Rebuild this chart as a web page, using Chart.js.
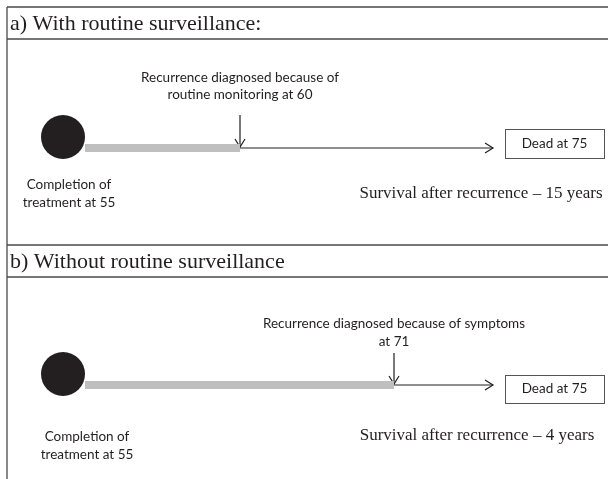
<!DOCTYPE html>
<html><head><meta charset="utf-8">
<script src="https://cdn.jsdelivr.net/npm/chart.js@4.4.1/dist/chart.umd.min.js"></script>
<style>html,body{margin:0;padding:0;background:#fff}canvas{display:block}</style>
</head><body>
<canvas id="c" width="608" height="479"></canvas>
<script>
// ---- data ----
const panelTitles = ['a) With routine surveillance:', 'b) Without routine surveillance'];
const completionAge = [55, 55];
const recurrenceAge = [60, 71];
const recurrenceCause = ['routine monitoring', 'symptoms'];
const deathAge = [75, 75];
const survivalYears = [15, 4];

// ---- schematic layout (diagram is not drawn to scale) ----
const panelLayout = [
  {top: 7,   lineDy: 141, recurX: 240, recurLines: ['Recurrence diagnosed because of', 'routine monitoring at ' + recurrenceAge[0]],
   recurTextDy: [-70, -53], arrowTopDy: -33, boxDy: [-19, 10], survDy: 46, survCx: 481, complCx: 69, complDy: [37, 55]},
  {top: 245, lineDy: 140, recurX: 394, recurLines: ['Recurrence diagnosed because of ' + recurrenceCause[1], 'at ' + recurrenceAge[1]],
   recurTextDy: [-61, -43], arrowTopDy: -32, boxDy: [-10, 18], survDy: 51, survCx: 477, complCx: 87, complDy: [52, 70]}
];
const frame = {left: 7, right: 608, headerH: 32, bottom: 479};
const circle = {x: 63, dy: -11, r: 22};
const barStartX = 85, arrowEndX = 493, boxL = 505, boxR = 604;

const INK = '#231f20', GREY = '#bfbfbf', FRAME = '#4a4a4a';
const datasets = [];
panelLayout.forEach((p, i) => {
  const ly = p.top + p.lineDy;
  datasets.push({type: 'line', data: [{x: barStartX, y: ly}, {x: p.recurX, y: ly}], borderColor: GREY, borderWidth: 8, pointRadius: 0, borderCapStyle: 'butt'});
  datasets.push({type: 'line', data: [{x: p.recurX, y: ly}, {x: arrowEndX, y: ly}], borderColor: INK, borderWidth: 1.2, pointRadius: 0});
  datasets.push({type: 'line', data: [{x: arrowEndX - 8, y: ly - 5}, {x: arrowEndX, y: ly}, {x: arrowEndX - 8, y: ly + 5}], borderColor: INK, borderWidth: 1.2, pointRadius: 0});
  datasets.push({type: 'line', data: [{x: p.recurX, y: ly + p.arrowTopDy}, {x: p.recurX, y: ly - 1}], borderColor: INK, borderWidth: 1.2, pointRadius: 0});
  datasets.push({type: 'line', data: [{x: p.recurX - 5, y: ly - 9}, {x: p.recurX, y: ly - 1}, {x: p.recurX + 5, y: ly - 9}], borderColor: INK, borderWidth: 1.2, pointRadius: 0});
  datasets.push({type: 'scatter', data: [{x: circle.x, y: ly + circle.dy}], pointRadius: circle.r, pointHoverRadius: circle.r, backgroundColor: INK, borderColor: INK, borderWidth: 0});
});

const annot = {
  id: 'annot',
  beforeDatasetsDraw(chart) {
    const ctx = chart.ctx, X = v => chart.scales.x.getPixelForValue(v), Y = v => chart.scales.y.getPixelForValue(v);
    ctx.save();
    ctx.strokeStyle = FRAME; ctx.lineWidth = 1.3;
    ctx.beginPath();
    ctx.moveTo(X(frame.left), Y(frame.bottom)); ctx.lineTo(X(frame.left), Y(panelLayout[0].top));
    panelLayout.forEach(p => {
      ctx.moveTo(X(frame.left), Y(p.top)); ctx.lineTo(X(frame.right), Y(p.top));
      ctx.moveTo(X(frame.left), Y(p.top + frame.headerH)); ctx.lineTo(X(frame.right), Y(p.top + frame.headerH));
    });
    ctx.stroke();
    ctx.restore();
  },
  afterDatasetsDraw(chart) {
    const ctx = chart.ctx, X = v => chart.scales.x.getPixelForValue(v), Y = v => chart.scales.y.getPixelForValue(v);
    ctx.save();
    ctx.fillStyle = INK; ctx.textBaseline = 'middle';
    panelLayout.forEach((p, i) => {
      const ly = p.top + p.lineDy;
      ctx.font = '22px "Liberation Serif", "Times New Roman", serif';
      ctx.textAlign = 'left';
      ctx.fillText(panelTitles[i], X(10), Y(p.top + frame.headerH / 2 + 1));
      ctx.font = '13.5px Lato, "Open Sans", sans-serif';
      ctx.textAlign = 'center';
      p.recurLines.forEach((t, k) => ctx.fillText(t, X(p.recurX), Y(ly + p.recurTextDy[k])));
      ctx.fillText('Completion of', X(p.complCx), Y(ly + p.complDy[0]));
      ctx.fillText('treatment at ' + completionAge[i], X(p.complCx), Y(ly + p.complDy[1]));
      // box
      ctx.strokeStyle = '#555'; ctx.lineWidth = 1;
      const bt = Y(ly + p.boxDy[0]), bb = Y(ly + p.boxDy[1]);
      ctx.strokeRect(Math.round(X(boxL)) + 0.5, Math.round(bt) + 0.5, Math.round(X(boxR) - X(boxL)), Math.round(bb - bt));
      ctx.fillText('Dead at ' + deathAge[i], (X(boxL) + X(boxR)) / 2, (bt + bb) / 2);
      ctx.font = '17px "Liberation Serif", "Times New Roman", serif';
      ctx.fillText('Survival after recurrence \u2013 ' + survivalYears[i] + ' years', X(p.survCx), Y(ly + p.survDy));
    });
    ctx.restore();
  }
};

new Chart(document.getElementById('c'), {
  type: 'line',
  data: {datasets},
  options: {
    responsive: false, animation: false, devicePixelRatio: 1,
    layout: {padding: 0, autoPadding: false},
    plugins: {legend: {display: false}, tooltip: {enabled: false}},
    elements: {line: {tension: 0}},
    scales: {
      x: {type: 'linear', min: 0, max: 608, display: false},
      y: {type: 'linear', min: 0, max: 479, reverse: true, display: false}
    }
  },
  plugins: [annot]
});
</script>
</body></html>
